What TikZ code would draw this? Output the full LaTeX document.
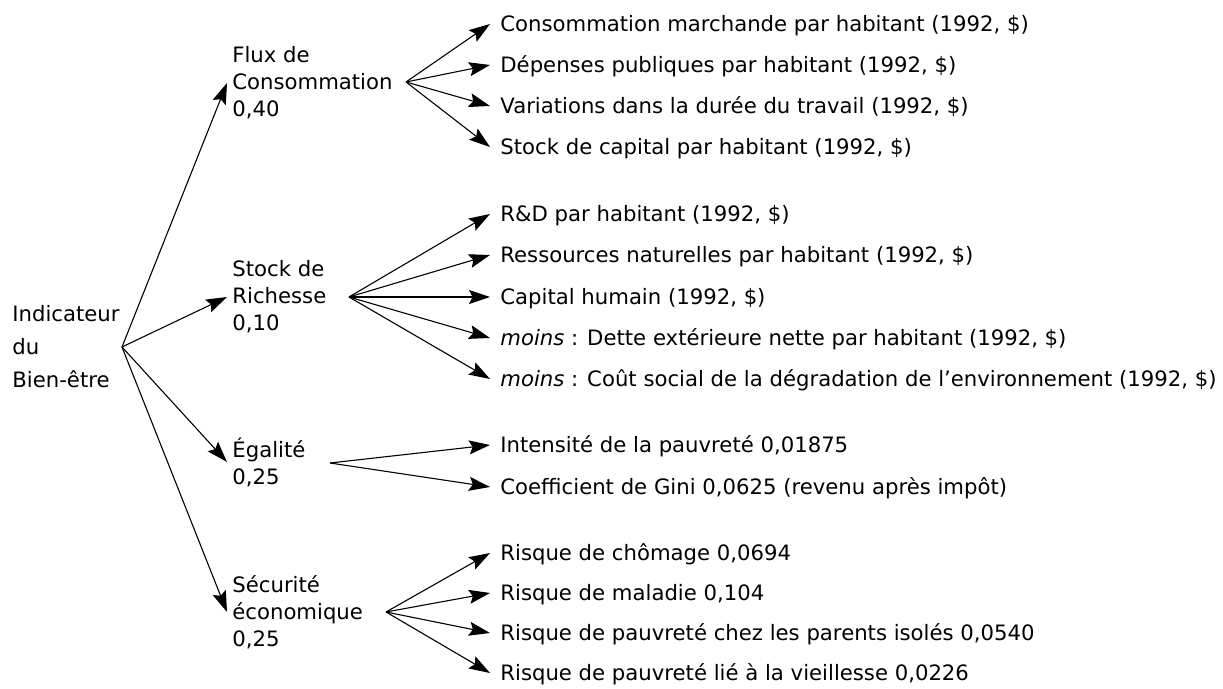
\documentclass[tikz,border=0pt]{standalone}
\usepackage{fontspec}
\setmainfont{DejaVu Sans}[ItalicFont={DejaVu Sans Oblique}]
\usetikzlibrary{arrows.meta}

\begin{document}
\begin{tikzpicture}[x=0.5pt,y=-0.5pt,
  every node/.style={inner sep=0pt},
  item/.style={anchor=west,inner xsep=5pt,text height=7.7pt,text depth=0pt,
    font=\fontsize{10.6}{12}\selectfont},
  group/.style={anchor=west,align=left,inner xsep=2.5pt,
    font=\fontsize{10.6}{13.5}\selectfont},
  arr/.style={-{Stealth[length=10.5pt,width=7pt,inset=1.8pt]},line width=0.55pt}]
  %uncomment to see the pixel grid of the reference:
  %\draw[dotted,step=100,black,very thin] (0,0) grid (1223,689);
  \useasboundingbox (0,0) rectangle (1223,689);

  % root
  \node[anchor=west,align=left,font=\fontsize{10.6}{16.5}\selectfont] (root) at (12,347)
    {Indicateur\\du\\Bien-être};
  \coordinate (rootout) at (122,347);

  % the four components
  \node[group] (flux)  at (227,83)  {Flux de\\Consommation\\0,40};
  \node[group] (stock) at (227,297) {Stock de\\Richesse\\0,10};
  \node[group] (egal)  at (227,462) {Égalité\\0,25};
  \node[group] (secu)  at (227,612) {Sécurité\\économique\\0,25};

  \coordinate (fluxout)  at (406,82);
  \coordinate (stockout) at (349,297);
  \coordinate (egalout)  at (330,463);
  \coordinate (secuout)  at (386,612);

  % items of each component
  \node[item] (f1) at (490,24)  {Consommation marchande par habitant (1992, \$)};
  \node[item] (f2) at (490,65)  {Dépenses publiques par habitant (1992, \$)};
  \node[item] (f3) at (490,106) {Variations dans la durée du travail (1992, \$)};
  \node[item] (f4) at (490,147) {Stock de capital par habitant (1992, \$)};

  \node[item] (s1) at (490,214) {R\&D par habitant (1992, \$)};
  \node[item] (s2) at (490,255) {Ressources naturelles par habitant (1992, \$)};
  \node[item] (s3) at (490,297) {Capital humain (1992, \$)};
  \node[item] (s4) at (490,338) {\textit{moins} : Dette extérieure nette par habitant (1992, \$)};
  \node[item] (s5) at (490,379) {\textit{moins} : Coût social de la dégradation de l’environnement (1992, \$)};

  \node[item] (e1) at (490,445) {Intensité de la pauvreté 0,01875};
  \node[item] (e2) at (490,487) {Coefficient de Gini 0,0625 (revenu après impôt)};

  \node[item] (r1) at (490,553) {Risque de chômage 0,0694};
  \node[item] (r2) at (490,593) {Risque de maladie 0,104};
  \node[item] (r3) at (490,633) {Risque de pauvreté chez les parents isolés 0,0540};
  \node[item] (r4) at (490,673) {Risque de pauvreté lié à la vieillesse 0,0226};

  % arrows from the root
  \draw[arr] (rootout) -- (flux.west);
  \draw[arr] (rootout) -- (stock.west);
  \draw[arr] (rootout) -- (egal.west);
  \draw[arr] (rootout) -- (secu.west);

  % arrows to the items
  \draw[arr] (fluxout) -- (f1.west);
  \draw[arr] (fluxout) -- (f2.west);
  \draw[arr] (fluxout) -- (f3.west);
  \draw[arr] (fluxout) -- (f4.west);

  \draw[arr] (stockout) -- (s1.west);
  \draw[arr] (stockout) -- (s2.west);
  \draw[arr] (stockout) -- (s3.west);
  \draw[arr] (stockout) -- (s4.west);
  \draw[arr] (stockout) -- (s5.west);

  \draw[arr] (egalout) -- (e1.west);
  \draw[arr] (egalout) -- (e2.west);

  \draw[arr] (secuout) -- (r1.west);
  \draw[arr] (secuout) -- (r2.west);
  \draw[arr] (secuout) -- (r3.west);
  \draw[arr] (secuout) -- (r4.west);

\end{tikzpicture}
\end{document}
